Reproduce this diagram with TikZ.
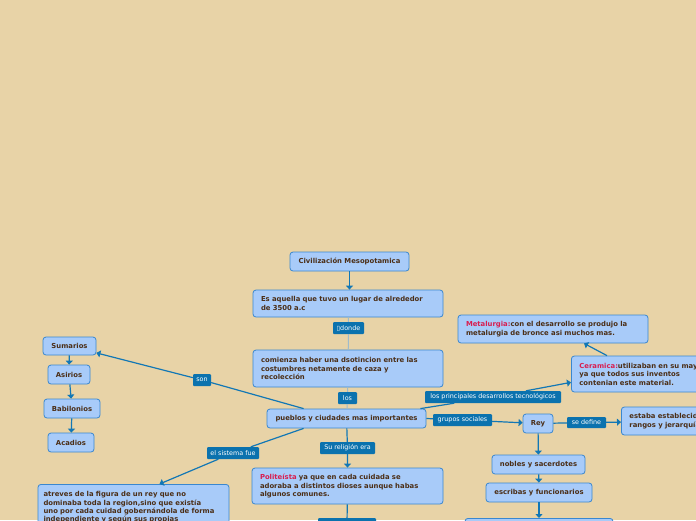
\documentclass[tikz,border=0pt]{standalone}
\usepackage{fontspec}
\setmainfont{DejaVu Sans}
\usetikzlibrary{positioning,arrows.meta}
\definecolor{bgc}{HTML}{E8D3A7}
\definecolor{cfil}{HTML}{A8CBF9}
\definecolor{cbrd}{HTML}{3A87CF}
\definecolor{ctxt}{HTML}{4B2E16}
\definecolor{lfil}{HTML}{0B72AE}
\definecolor{lnkc}{HTML}{1277B5}
\definecolor{pale}{HTML}{9EBBCB}
\definecolor{hl}{HTML}{D81E4F}
\tikzset{
  cpt/.style={draw=cbrd, fill=cfil, line width=0.8pt, rounded corners=3pt, text=ctxt, font=\bfseries\fontsize{6.85}{8.4}\selectfont, inner xsep=8pt, inner ysep=2pt},
  lbl/.style={fill=lfil, text=white, font=\fontsize{6.4}{7}\selectfont, rounded corners=1pt, inner sep=0pt, minimum height=12pt},
  lnk/.style={draw=lnkc, line width=1.2pt},
  arr/.style={lnk, -{Triangle[length=4pt,width=7pt]}},
  faint/.style={draw=pale, line width=1pt}}

\begin{document}
\begin{tikzpicture}[x=1pt, y=-1pt]
\fill[bgc] (0,0) rectangle (696,520);
\useasboundingbox (0,0) rectangle (696,520);
\node[cpt, minimum width=119pt, minimum height=19pt] (civ) at (349.5,261.5) {Civilización Mesopotamica};
\node[cpt, text width=174pt, minimum height=27pt, align=left] (esaq) at (348,303.5) {Es aquella que tuvo un lugar de alrededor\\de 3500 a.c};
\node[cpt, text width=174pt, minimum height=37pt, align=left] (comienza) at (348,368.5) {comienza haber una dsotincion entre las\\costumbres netamente de caza y\\recolección};
\node[cpt, minimum width=159pt, minimum height=19pt] (pueblos) at (346.5,418.5) {pueblos y ciudades mas importantes};
\node[cpt, minimum width=53pt, minimum height=18pt, inner xsep=2pt] (sumarios) at (69.5,346) {Sumarios};
\node[cpt, minimum width=42pt, minimum height=19pt, inner xsep=2pt] (asirios) at (69,374.5) {Asirios};
\node[cpt, minimum width=56pt, minimum height=19pt, inner xsep=2pt] (babilonios) at (72,408.5) {Babilonios};
\node[cpt, minimum width=46pt, minimum height=19pt, inner xsep=2pt] (acadios) at (71,442.5) {Acadios};
\node[cpt, text width=180pt, inner xsep=5.5pt, inner ysep=7pt, anchor=north, align=left] (atreves) at (133.5,484) {atreves de la figura de un rey que no\\dominaba toda la region,sino que existía\\uno por cada cuidad gobernándola de forma\\independiente y según sus propias\\leyes};
\node[cpt, text width=175pt, minimum height=36pt, align=left] (politeista) at (347.5,486) {\textcolor{hl}{Politeísta} ya que en cada cuidada se\\adoraba a distintos dioses aunque habas\\algunos comunes.};
\node[cpt, text width=174pt, minimum height=28pt, align=left] (metalurgia) at (553,329) {\textcolor{hl}{Metalurgia:}con el desarrollo se produjo la\\metalurgia de bronce asi muchos mas.};
\node[cpt, text width=174pt, minimum height=36pt, anchor=west, align=left] (ceramica) at (571,374) {\textcolor{hl}{Ceramica:}utilizaban en su mayoría\\ya que todos sus inventos\\contenian este material.};
\node[cpt, minimum width=30pt, minimum height=19pt, inner xsep=2pt] (rey) at (538,423.5) {Rey};
\node[cpt, text width=174pt, minimum height=28pt, anchor=west, align=left] (estaba) at (621,421) {estaba establecido en\\rangos y jerarquías};
\node[cpt, minimum width=93pt, minimum height=19pt, inner xsep=2pt] (nobles) at (538.5,464.5) {nobles y sacerdotes};
\node[cpt, minimum width=106pt, minimum height=19pt, inner xsep=2pt] (escribas) at (539,492.5) {escribas y funcionarios};
\node[cpt, minimum width=148pt, minimum height=20pt, anchor=north] (botbox) at (539,518) {};
\node[lbl, minimum width=31pt] (donde) at (348.5,328) {▯donde};
\node[lbl, minimum width=19pt] (los) at (347.5,398) {los};
\node[lbl, minimum width=18pt] (son) at (202,380) {son};
\node[lbl, minimum width=52pt] (sistema) at (233,453) {el sistema fue};
\node[lbl, minimum width=55pt] (religion) at (347.5,448) {Su religión era};
\node[lbl, minimum width=136pt] (tecno) at (493,397) {los principales desarrollos tecnológicos};
\node[lbl, minimum width=59pt] (grupos) at (462.5,420) {grupos sociales};
\node[lbl, minimum width=39pt, minimum height=11pt] (sedefine) at (586.5,422.5) {se define};
\node[lbl, minimum width=58pt, anchor=north] (botlbl) at (347,518) {};
\draw[arr] (civ.south) -- (civ.south |- esaq.north);
\draw[faint] (esaq) -- (donde) -- (comienza);
\draw[faint] (comienza) -- (los) -- (pueblos);
\draw[arr] (pueblos.167) -- (son) -- (sumarios);
\draw[arr] (sumarios) -- (asirios);
\draw[arr] (asirios) -- (babilonios);
\draw[arr] (babilonios) -- (acadios);
\draw[arr] (pueblos.193) -- (sistema) -- ([xshift=26pt]atreves.north);
\draw[arr] (pueblos) -- (religion) -- (politeista);
\draw[lnk] (politeista) -- (botlbl);
\draw[arr] ([xshift=-6pt]pueblos.north east) -- (tecno) -- (ceramica.185);
\draw[arr] ([xshift=36pt]ceramica.north west) -- ([xshift=31pt]metalurgia.south);
\draw[arr] (pueblos.east) -- (grupos) -- (rey);
\draw[arr] (rey) -- (sedefine) -- (estaba);
\draw[arr] (rey) -- (nobles);
\draw[arr] (nobles) -- (escribas);
\draw[arr] (escribas) -- (botbox);
\end{tikzpicture}
\end{document}
